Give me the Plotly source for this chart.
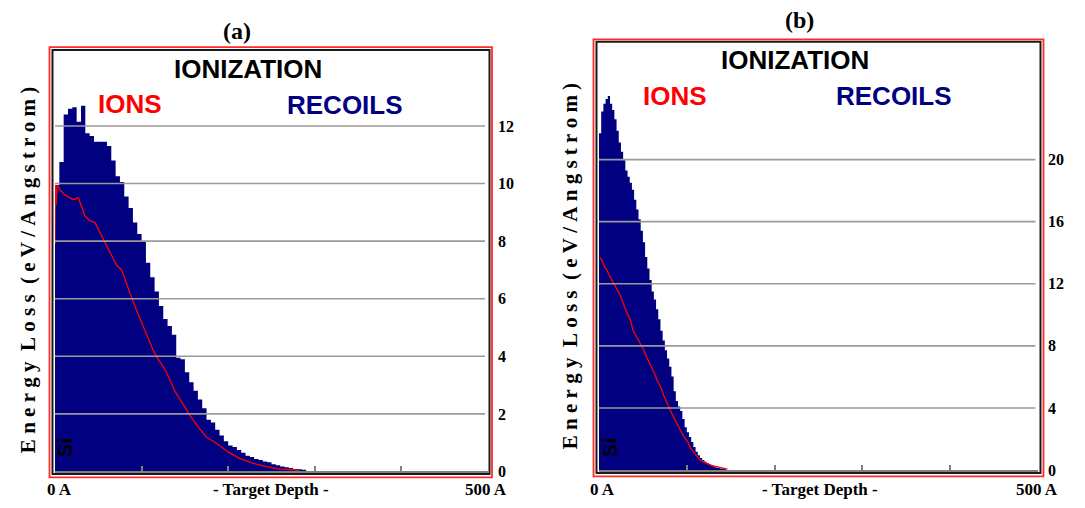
import numpy as np
import plotly.graph_objects as go

# ---------------- data ----------------
# (a) recoil ionization, 5 A bins starting at 0 A
recoils_a = [9.95, 10.75, 12.4, 12.6, 12.65, 12.15, 12.7, 11.75, 11.65, 11.45,
             11.45, 11.45, 11.3, 10.8, 10.25, 10.05, 9.55, 9.15, 8.65, 8.25,
             8.0, 7.25, 6.75, 6.25, 5.75, 5.3, 5.05, 4.75, 3.95, 3.9,
             3.45, 3.1, 2.8, 2.5, 2.2, 1.8, 1.7, 1.45, 1.25, 1.05,
             0.9, 0.85, 0.75, 0.65, 0.55, 0.5, 0.43, 0.4, 0.35, 0.32,
             0.25, 0.22, 0.17, 0.15, 0.12, 0.09, 0.08, 0.06]
bin_a = 5.0

# (a) ion ionization curve
ion_depth_a = [0, 0.4, 1.2, 2.5, 5.8, 11.5, 21, 27, 34.6, 40.4, 46, 54, 57.7, 63.5,
               71, 77, 82.8, 88.6, 96, 102, 107.7, 113.5, 119, 127, 132.8, 138.6,
               148, 156, 165.5, 175, 186.7, 200, 213.6, 229, 244.5, 260, 275, 282]
ions_a = [7.9, 9.95, 9.25, 9.95, 9.78, 9.6, 9.44, 9.5, 8.87, 8.7, 8.65, 8.19, 7.96, 7.62,
          7.17, 7.0, 6.5, 6.03, 5.46, 5.05, 4.65, 4.2, 3.9, 3.55, 3.18, 2.78,
          2.33, 1.94, 1.54, 1.19, 0.97, 0.68, 0.45, 0.28, 0.17, 0.08, 0.06, 0.04]

# (b) recoil ionization, 2.5 A bins starting at 0 A
recoils_b = [21.7, 23.1, 23.6, 23.9, 24.1, 23.6, 23.2, 22.6, 21.85, 21.1,
             20.5, 19.95, 19.3, 18.9, 18.5, 18.05, 17.42, 16.78, 16.15, 15.41,
             14.67, 13.72, 12.99, 12.25, 11.5, 10.98, 10.35, 9.72, 8.97, 8.34,
             7.71, 7.18, 6.66, 6.03, 5.08, 4.44, 4.1, 3.8, 3.28, 2.75,
             2.44, 2.12, 1.8, 1.49, 1.17, 0.95, 0.78, 0.64, 0.54, 0.45,
             0.37, 0.3, 0.22, 0.17, 0.13, 0.1, 0.08, 0.05]
bin_b = 2.5

# (b) ion ionization curve, one value per 2.5 A bin
ions_b = [13.7, 13.45, 13.1, 12.9, 12.6, 12.35, 12.14, 11.85, 11.55, 11.3,
          10.95, 10.55, 10.2, 9.9, 9.55, 9.0, 8.75, 8.5, 8.25, 8.0,
          7.7, 7.35, 7.05, 6.8, 6.45, 6.15, 5.78, 5.5, 5.2, 4.8,
          4.45, 4.1, 3.85, 3.55, 3.25, 3.0, 2.72, 2.45, 2.18, 1.98,
          1.8, 1.45, 1.25, 1.05, 0.85, 0.72, 0.6, 0.52, 0.44, 0.38,
          0.33, 0.28, 0.24, 0.21, 0.18, 0.16, 0.12, 0.09, 0.06]

x_ticks = [0, 100, 200, 300, 400, 500]
y_ticks_a = [0, 2, 4, 6, 8, 10, 12]
y_ticks_b = [0, 4, 8, 12, 16, 20]

# ---------------- helpers ----------------
W, H = 1085, 508


def fx(p):
    return p / W


def fy(p):
    return 1 - p / H


SERIF = "Liberation Serif"
SANS = "Liberation Sans"
NAVY = "#000080"
RED = "#ff0000"


def step_trace(vals, width, xa, ya):
    edges = list(np.arange(len(vals) + 1) * width)
    return go.Scatter(x=edges, y=list(vals) + [vals[-1]], mode="lines",
                      line=dict(shape="hv", width=0, color=NAVY),
                      fill="tozeroy", fillcolor=NAVY, xaxis=xa, yaxis=ya,
                      hoverinfo="skip")


fig = go.Figure()
fig.add_trace(step_trace(recoils_a, bin_a, "x", "y"))
fig.add_trace(go.Scatter(x=ion_depth_a, y=ions_a, mode="lines",
                         line=dict(color=RED, width=1.3), xaxis="x", yaxis="y"))
fig.add_trace(step_trace(recoils_b, bin_b, "x2", "y2"))
depth_b = np.arange(len(ions_b)) * bin_b + bin_b / 2
fig.add_trace(go.Scatter(x=depth_b, y=ions_b, mode="lines",
                         line=dict(color=RED, width=1.3), xaxis="x2", yaxis="y2"))

xaxis_common = dict(range=[0, 500], tickvals=x_ticks, ticks="inside", ticklen=5,
                    tickwidth=2, tickcolor="#808080", showticklabels=False,
                    showgrid=False, zeroline=False, showline=True,
                    linecolor="#808080", linewidth=2, fixedrange=True)
yaxis_common = dict(side="right", showgrid=False, zeroline=False, showline=False,
                    ticks="", ticklabelstandoff=9,
                    tickfont=dict(family=SERIF, size=16, color="black", weight="bold"),
                    fixedrange=True)

fig.update_layout(
    width=W, height=H, margin=dict(l=0, r=0, t=0, b=0),
    paper_bgcolor="white", plot_bgcolor="white", showlegend=False,
    xaxis=dict(domain=[fx(55), fx(488)], anchor="y", **xaxis_common),
    yaxis=dict(domain=[fy(480), fy(52)], anchor="x", range=[0, 14.6],
               tickvals=y_ticks_a, **yaxis_common),
    xaxis2=dict(domain=[fx(599), fx(1038)], anchor="y2", **xaxis_common),
    yaxis2=dict(domain=[fy(478.5), fy(43)], anchor="x2", range=[0, 27.56],
                tickvals=y_ticks_b, **yaxis_common),
)

shapes = []
# horizontal grid lines drawn over the filled histograms
for v in y_ticks_a[1:]:
    shapes.append(dict(type="line", xref="x domain", yref="y", x0=0, x1=0.993,
                       y0=v, y1=v, line=dict(color="#9a9a9a", width=1.6)))
for v in y_ticks_b[1:]:
    shapes.append(dict(type="line", xref="x2 domain", yref="y2", x0=0, x1=0.994,
                       y0=v, y1=v, line=dict(color="#9a9a9a", width=1.6)))

# double frames: black inner, red outer
for (l, t, r, b) in [(52.5, 51, 489.5, 482.5), (596.5, 42.5, 1040.5, 481.5)]:
    shapes.append(dict(type="rect", xref="paper", yref="paper",
                       x0=fx(l), x1=fx(r), y0=fy(b), y1=fy(t),
                       line=dict(color="#1a1a1a", width=2)))
for (l, t, r, b) in [(49.5, 48, 492, 486), (593.5, 40, 1043.5, 485)]:
    shapes.append(dict(type="rect", xref="paper", yref="paper",
                       x0=fx(l), x1=fx(r), y0=fy(b), y1=fy(t),
                       line=dict(color="#ff2a2a", width=1.8)))
fig.update_layout(shapes=shapes)


def note(text, x, y, size, color="black", family=SANS, angle=0, bold=True):
    fig.add_annotation(text=text, x=fx(x), y=fy(y), xref="paper", yref="paper",
                       showarrow=False, xanchor="center", yanchor="middle",
                       textangle=angle, borderpad=0,
                       font=dict(family=family, size=size, color=color,
                                 weight="bold" if bold else "normal"))


NB = "\u00a0"
ylab = (NB.join("Energy") + NB * 2 + NB.join("Loss") + NB * 2
        + NB.join("(eV/Angstrom)"))

for panel in [
    dict(tag="(a)", tag_xy=(237, 32), ion=(248, 70), ions=(130, 106), rec=(345, 107),
         ylab=(28, 275), si=(65, 456), x0=(59, 498), xt=(271, 498), x5=(486, 498)),
    dict(tag="(b)", tag_xy=(799, 20), ion=(795, 61), ions=(675, 98), rec=(894, 98),
         ylab=(570, 271), si=(610, 456), x0=(602, 498), xt=(820, 498), x5=(1037, 498)),
]:
    note(panel["tag"], *panel["tag_xy"], 24, family=SERIF)
    note("IONIZATION", *panel["ion"], 26)
    note("IONS", *panel["ions"], 26, color=RED)
    note("RECOILS", *panel["rec"], 26, color=NAVY)
    note(ylab, *panel["ylab"], 21, family=SERIF, angle=-90, bold=True)
    note("Si", *panel["si"], 20, angle=-90)
    note("0 A", *panel["x0"], 17, family=SERIF)
    note("- Target Depth -", *panel["xt"], 17, family=SERIF)
    note("500 A", *panel["x5"], 17, family=SERIF)

fig.write_html("out.html")
